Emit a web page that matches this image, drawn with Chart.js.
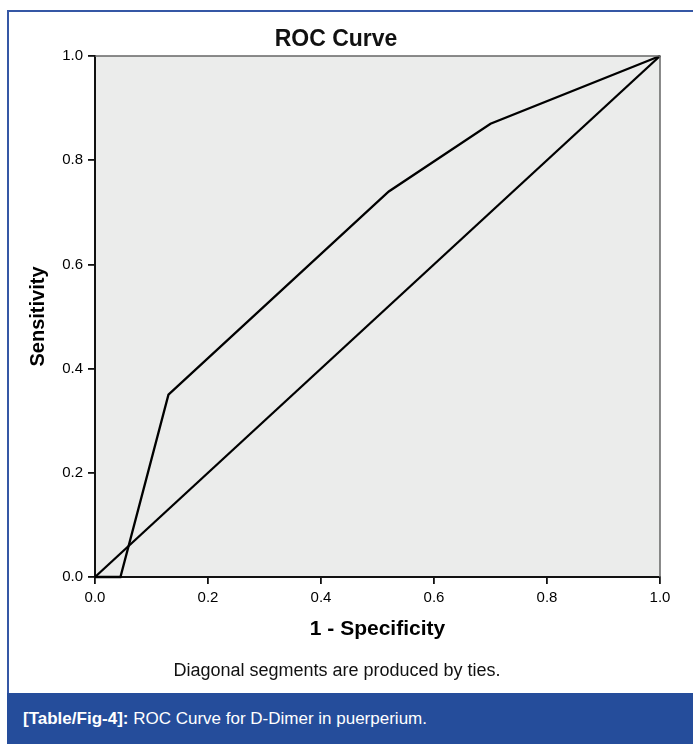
<!DOCTYPE html>
<html>
<head>
<meta charset="utf-8">
<title>ROC Curve</title>
<script src="https://cdn.jsdelivr.net/npm/chart.js@4.4.1/dist/chart.umd.min.js"></script>
<style>
  html, body { margin: 0; padding: 0; background: #fff; }
  body { width: 693px; height: 744px; position: relative; overflow: hidden;
         font-family: "Liberation Sans", Arial, sans-serif; }
  #frame { position: absolute; left: 7px; top: 10px; width: 686px; height: 683px;
           border-left: 2px solid #3557a5; border-top: 2px solid #3557a5; box-sizing: border-box; }
  #title { position: absolute; left: 0; width: 672px; top: 27px; text-align: center;
           font-weight: bold; font-size: 23px; line-height: 23px; color: #111; }
  #note { position: absolute; left: 0; width: 674px; top: 661px; text-align: center;
          font-size: 18px; line-height: 18px; color: #111; }
  #chartBox { position: absolute; left: 9px; top: 12px; width: 684px; height: 681px; }
  #footer { position: absolute; left: 7px; top: 693px; width: 686px; height: 51px;
            background: #254d9b; color: #fff; font-size: 17px; line-height: 51px;
            padding-left: 16px; box-sizing: border-box; }
</style>
</head>
<body>
<div id="frame"></div>
<div id="chartBox"><canvas id="rocChart" width="684" height="681"></canvas></div>
<div id="title">ROC Curve</div>
<div id="note">Diagonal segments are produced by ties.</div>
<div id="footer"><b>[Table/Fig-4]:</b> ROC Curve for D-Dimer in puerperium.</div>
<script>
// Puntos de la curva ROC (1 - especificidad, sensibilidad)
const fpr = [0.0, 0.045, 0.13, 0.52, 0.70, 1.0];
const tpr = [0.0, 0.0, 0.35, 0.74, 0.87, 1.0];

// Linea de referencia
const refX = [0.0, 1.0];
const refY = [0.0, 1.0];

const xTicks = [0.0, 0.2, 0.4, 0.6, 0.8, 1.0];
const yTicks = [0.0, 0.2, 0.4, 0.6, 0.8, 1.0];

const toPoints = (xs, ys) => xs.map((x, i) => ({ x: x, y: ys[i] }));

// fondo gris del area de trazado y borde superior/derecho
const plotFrame = {
  id: 'plotFrame',
  beforeDraw(chart) {
    const { ctx, chartArea: a } = chart;
    ctx.save();
    ctx.fillStyle = '#ebeceb';
    ctx.fillRect(a.left, a.top, a.right - a.left, a.bottom - a.top);
    ctx.restore();
  },
  afterDraw(chart) {
    const { ctx, chartArea: a } = chart;
    ctx.save();
    ctx.strokeStyle = '#666';
    ctx.lineWidth = 1.5;
    ctx.beginPath();
    ctx.moveTo(a.left, a.top);
    ctx.lineTo(a.right, a.top);
    ctx.lineTo(a.right, a.bottom);
    ctx.stroke();
    ctx.restore();
  }
};

const tickFont = { family: '"Liberation Sans", Arial, sans-serif', size: 15 };
const titleFont = { family: '"Liberation Sans", Arial, sans-serif', weight: 'bold' };

new Chart(document.getElementById('rocChart'), {
  type: 'scatter',
  data: {
    datasets: [
      {
        label: 'ROC',
        data: toPoints(fpr, tpr),
        showLine: true,
        borderColor: '#000',
        borderWidth: 2.3,
        pointRadius: 0,
        tension: 0,
        clip: false
      },
      {
        label: 'Reference Line',
        data: toPoints(refX, refY),
        showLine: true,
        borderColor: '#000',
        borderWidth: 2.3,
        pointRadius: 0,
        tension: 0,
        clip: false
      }
    ]
  },
  options: {
    responsive: false,
    animation: false,
    layout: { padding: { top: 44, right: 33, bottom: 46, left: 0 } },
    plugins: {
      legend: { display: false },
      tooltip: { enabled: false }
    },
    scales: {
      x: {
        type: 'linear',
        min: 0,
        max: 1,
        afterBuildTicks: scale => { scale.ticks = xTicks.map(v => ({ value: v })); },
        afterFit: scale => { scale.height = 70; },
        ticks: {
          color: '#000',
          font: tickFont,
          padding: 5,
          callback: v => Number(v).toFixed(1)
        },
        grid: { drawOnChartArea: false, drawTicks: true, tickLength: 7, color: '#111', lineWidth: 1.8 },
        border: { display: true, color: '#111', width: 2 },
        title: {
          display: true,
          text: '1 - Specificity',
          color: '#000',
          font: { ...titleFont, size: 21 },
          padding: { top: 0, bottom: 5 }
        }
      },
      y: {
        type: 'linear',
        min: 0,
        max: 1,
        afterBuildTicks: scale => { scale.ticks = yTicks.map(v => ({ value: v })); },
        afterFit: scale => { scale.width = 86; },
        ticks: {
          color: '#000',
          font: tickFont,
          padding: 5,
          callback: v => Number(v).toFixed(1)
        },
        grid: { drawOnChartArea: false, drawTicks: true, tickLength: 7, color: '#111', lineWidth: 1.8 },
        border: { display: true, color: '#111', width: 2 },
        title: {
          display: true,
          text: 'Sensitivity',
          color: '#000',
          font: { ...titleFont, size: 20 },
          padding: { top: 17, bottom: 0 }
        }
      }
    }
  },
  plugins: [plotFrame]
});
</script>
</body>
</html>
